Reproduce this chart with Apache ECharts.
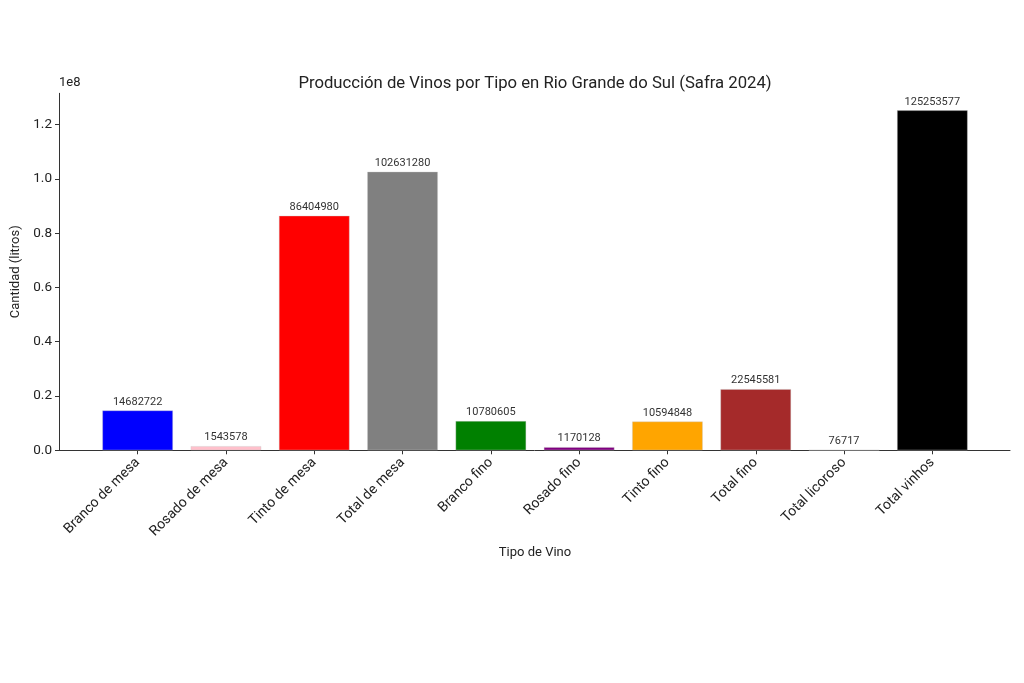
<!DOCTYPE html>
<html>
<head>
<meta charset="utf-8">
<script src="https://cdn.jsdelivr.net/npm/echarts@6/dist/echarts.min.js"></script>
<style>
  html, body { margin: 0; padding: 0; background: #fff; }
  #chart { width: 1024px; height: 683px; }
</style>
</head>
<body>
<div id="chart"></div>
<script>
// Wine production by type, Rio Grande do Sul (harvest 2024)
var categories = ['Branco de mesa', 'Rosado de mesa', 'Tinto de mesa', 'Total de mesa',
    'Branco fino', 'Rosado fino', 'Tinto fino', 'Total fino', 'Total licoroso', 'Total vinhos'];
var litros = [14682722, 1543578, 86404980, 102631280, 10780605, 1170128, 10594848, 22545581, 76717, 125253577];
var barColors = ['#0000ff', '#ffc0cb', '#ff0000', '#808080', '#008000', '#800080', '#ffa500', '#a52a2a', '#d2b48c', '#000000'];
var yTicks = [0, 20000000, 40000000, 60000000, 80000000, 100000000, 120000000];

var FONT = 'Roboto';
var yMax = 131516256;

var chart = echarts.init(document.getElementById('chart'));

chart.setOption({
    animation: false,
    backgroundColor: '#fff',
    textStyle: { fontFamily: FONT },
    title: {
        text: 'Producción de Vinos por Tipo en Rio Grande do Sul (Safra 2024)',
        left: 530, top: 70, textAlign: 'center',
        textStyle: { fontFamily: FONT, fontSize: 16.7, fontWeight: 'normal', color: '#222' }
    },
    grid: [
        // bars: matplotlib-style margins inside the axis
        { left: 93.5, right: 47.5, top: 93.3, bottom: 232.7 },
        // full axes frame: spines and y labels
        { left: 59, right: 14, top: 93.3, bottom: 232.7 }
    ],
    xAxis: [{
        gridIndex: 0,
        type: 'category',
        data: categories,
        axisLine: { show: false },
        axisTick: { show: true, alignWithLabel: true, length: 4, lineStyle: { color: '#333' } },
        axisLabel: { rotate: 45, fontSize: 14, color: '#222', margin: 10, interval: 0 },
        name: 'Tipo de Vino',
        nameLocation: 'middle',
        nameGap: 96,
        nameTextStyle: { fontSize: 13, color: '#222' }
    }, {
        gridIndex: 1,
        type: 'value',
        min: 0, max: 1,
        axisLine: { show: true, lineStyle: { color: '#333', width: 1 } },
        axisTick: { show: false },
        axisLabel: { show: false },
        splitLine: { show: false }
    }],
    yAxis: [{
        gridIndex: 0,
        type: 'value',
        min: 0, max: yMax,
        show: false
    }, {
        gridIndex: 1,
        type: 'value',
        min: 0, max: yMax,
        axisLine: { show: true, lineStyle: { color: '#333', width: 1 } },
        axisTick: { show: true, length: 4, customValues: yTicks, lineStyle: { color: '#333' } },
        axisLabel: {
            fontSize: 13.5, color: '#222', margin: 7,
            customValues: yTicks,
            formatter: function(v) { return (v / 1e8).toFixed(1); }
        },
        splitLine: { show: false },
        name: 'Cantidad (litros)',
        nameLocation: 'middle',
        nameGap: 36,
        nameTextStyle: { fontSize: 13, color: '#222' }
    }],
    graphic: [{
        type: 'text',
        left: 59, top: 76,
        style: { text: '1e8', font: '13px ' + FONT, fill: '#222' }
    }],
    series: [{
        type: 'bar',
        xAxisIndex: 0,
        yAxisIndex: 0,
        barWidth: '80%',
        data: litros.map(function(v, i) {
            return { value: v, itemStyle: { color: barColors[i], borderColor: 'rgba(200,200,200,0.6)', borderWidth: 0.6 } };
        }),
        label: {
            show: true,
            position: 'top',
            distance: 3,
            fontSize: 11,
            color: '#333',
            formatter: function(p) { return String(p.value); }
        }
    }]
});
</script>
</body>
</html>
